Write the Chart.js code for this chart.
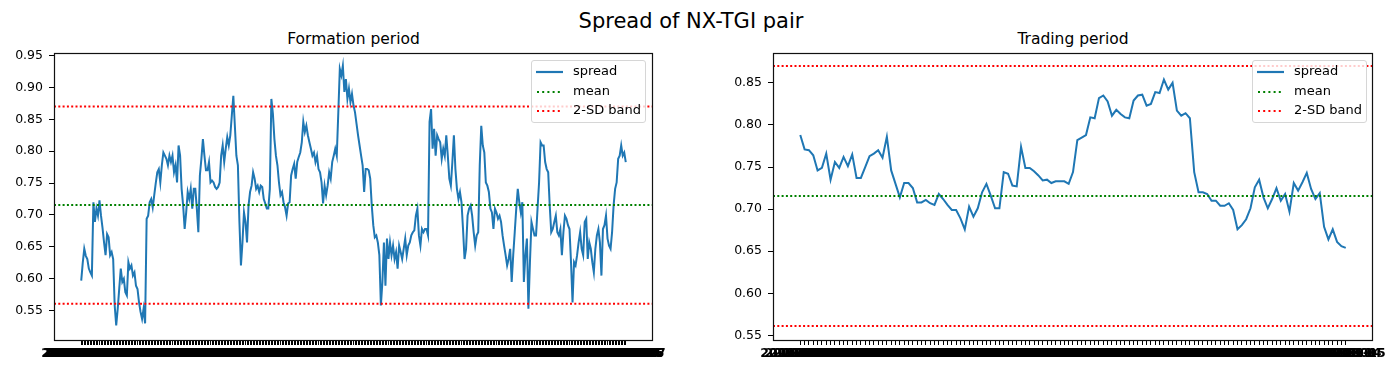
<!DOCTYPE html>
<html>
<head>
<meta charset="utf-8">
<title>Spread of NX-TGI pair</title>
<script src="https://cdn.jsdelivr.net/npm/chart.js@4.4.1/dist/chart.umd.min.js"></script>
<style>
  html, body { margin: 0; padding: 0; background: #fff; }
  body { width: 1400px; height: 377px; position: relative; overflow: hidden; font-family: "DejaVu Sans", sans-serif; color: #000; }
  .panel { position: absolute; top: 0; width: 700px; height: 377px; }
  .fig-title { position: absolute; left: 0; width: 1382px; top: 11px; text-align: center; font-size: 21px; line-height: 21px; }
  .ax-title { position: absolute; top: 32px; text-align: center; font-size: 15.5px; line-height: 15px; }
  .legend { position: absolute; top: 60px; width: 113px; height: 61px; background: rgba(255,255,255,0.8); border: 1px solid #d6d6d6; border-radius: 3px; }
  .legend .row { position: absolute; left: 0; height: 14px; font-size: 13px; line-height: 14px; }
  .legend svg { position: absolute; left: 3px; top: 2px; }
  .legend span { position: absolute; left: 41px; top: -1px; white-space: nowrap; }
</style>
</head>
<body>
<div class="fig-title">Spread of NX-TGI pair</div>
<div class="ax-title" style="left:54px;width:599px;">Formation period</div>
<div class="ax-title" style="left:773px;width:600px;">Trading period</div>
<div class="panel" style="left:0"><canvas id="formation" width="700" height="377"></canvas></div>
<div class="panel" style="left:700px"><canvas id="trading" width="700" height="377"></canvas></div>
<div class="legend" style="left:531px" id="legend-formation"></div>
<div class="legend" style="left:1252px" id="legend-trading"></div>
<script>
// ─── Data ────────────────────────────────────────────────────────────────────

const formationSpread = [
  0.597, 0.625, 0.647, 0.636, 0.631, 0.616, 0.610, 0.605, 0.720, 0.689,
  0.710, 0.699, 0.723, 0.699, 0.680, 0.657, 0.637, 0.670, 0.665, 0.637,
  0.642, 0.631, 0.558, 0.527, 0.553, 0.585, 0.616, 0.595, 0.600, 0.579,
  0.574, 0.626, 0.616, 0.621, 0.605, 0.610, 0.589, 0.584, 0.563, 0.548,
  0.537, 0.553, 0.530, 0.694, 0.699, 0.720, 0.725, 0.712, 0.731, 0.750,
  0.767, 0.772, 0.751, 0.778, 0.798, 0.793, 0.788, 0.778, 0.793, 0.783,
  0.793, 0.767, 0.778, 0.751, 0.809, 0.793, 0.741, 0.715, 0.678, 0.704,
  0.736, 0.725, 0.741, 0.710, 0.741, 0.741, 0.710, 0.673, 0.762, 0.788,
  0.819, 0.793, 0.770, 0.770, 0.783, 0.751,
  0.754, 0.751, 0.744, 0.741, 0.744, 0.751, 0.793, 0.809, 0.783, 0.804,
  0.822, 0.809, 0.825, 0.856, 0.887, 0.840, 0.793, 0.778, 0.689, 0.621,
  0.657, 0.704, 0.689, 0.657, 0.715, 0.736, 0.746, 0.767, 0.757, 0.741,
  0.746, 0.736, 0.746, 0.744, 0.725, 0.718, 0.710, 0.710, 0.741, 0.882,
  0.859, 0.819, 0.793, 0.778, 0.751, 0.731, 0.736, 0.720, 0.712, 0.699,
  0.718, 0.720, 0.762, 0.772, 0.780, 0.757, 0.783, 0.791, 0.798, 0.814,
  0.846, 0.830, 0.840, 0.825, 0.814, 0.804, 0.793, 0.798, 0.783, 0.793,
  0.772, 0.767, 0.751, 0.718, 0.746, 0.731, 0.746, 0.767, 0.757, 0.783,
  0.793, 0.804, 0.793, 0.860, 0.929, 0.919, 0.934, 0.893, 0.913, 0.882,
  0.898, 0.877,
  0.890, 0.872, 0.861, 0.843, 0.825, 0.809, 0.793, 0.778, 0.736, 0.772,
  0.772, 0.770, 0.757, 0.715, 0.684, 0.665, 0.668, 0.657, 0.637, 0.558,
  0.595, 0.657, 0.589, 0.663, 0.631, 0.657, 0.637, 0.652, 0.631, 0.642,
  0.616, 0.652, 0.642, 0.631, 0.647, 0.663, 0.637, 0.652, 0.657, 0.668,
  0.673, 0.676, 0.699, 0.710, 0.668, 0.652, 0.678, 0.673, 0.678, 0.678,
  0.668, 0.846, 0.866, 0.804, 0.835, 0.793, 0.825, 0.819, 0.814, 0.788,
  0.804, 0.793, 0.825, 0.793, 0.757, 0.746, 0.783, 0.825, 0.772, 0.741,
  0.725, 0.736, 0.720, 0.678, 0.631, 0.647, 0.699, 0.710, 0.715, 0.699,
  0.673, 0.652, 0.668, 0.673, 0.778, 0.840, 0.809, 0.798, 0.751, 0.746,
  0.736, 0.710, 0.704, 0.678,
  0.710, 0.704, 0.694, 0.699, 0.689, 0.668, 0.652, 0.637, 0.621, 0.631,
  0.647, 0.595, 0.637, 0.673, 0.710, 0.741, 0.720, 0.704, 0.720, 0.595,
  0.637, 0.663, 0.553, 0.626, 0.689, 0.678, 0.668, 0.668, 0.710, 0.751,
  0.814, 0.809, 0.809, 0.783, 0.772, 0.767, 0.715, 0.673, 0.678, 0.689,
  0.699, 0.673, 0.668, 0.678, 0.637, 0.673, 0.699, 0.694, 0.684, 0.678,
  0.626, 0.563, 0.626, 0.621, 0.637, 0.657, 0.673, 0.647, 0.637, 0.689,
  0.694, 0.631, 0.657, 0.647, 0.626, 0.610, 0.647, 0.668, 0.678, 0.657,
  0.605, 0.678, 0.684, 0.699, 0.663, 0.652, 0.647, 0.673, 0.715, 0.741,
  0.751, 0.788, 0.793, 0.809, 0.793, 0.798, 0.783
];

const tradingSpread = [
  0.788, 0.771, 0.770, 0.764, 0.746, 0.749, 0.766, 0.735, 0.756, 0.749,
  0.762, 0.751, 0.765, 0.737, 0.737, 0.750, 0.763, 0.766, 0.770, 0.761,
  0.786, 0.746, 0.730, 0.714, 0.731, 0.731, 0.725, 0.708, 0.708, 0.711,
  0.707, 0.705, 0.718, 0.712, 0.705, 0.699, 0.699, 0.689, 0.676, 0.703,
  0.691, 0.701, 0.720, 0.730, 0.716, 0.701, 0.701, 0.744, 0.742, 0.728,
  0.727, 0.774, 0.749, 0.749, 0.745, 0.740, 0.734, 0.735, 0.731, 0.733,
  0.733, 0.733, 0.730,
  0.744, 0.782, 0.785, 0.788, 0.809, 0.808, 0.832, 0.835, 0.828, 0.811,
  0.818, 0.813, 0.809, 0.808, 0.829, 0.835, 0.836, 0.823, 0.825, 0.839,
  0.838, 0.854, 0.842, 0.850, 0.817, 0.811, 0.814, 0.808, 0.744, 0.720,
  0.720, 0.718, 0.710, 0.710, 0.704, 0.704, 0.707, 0.699, 0.676, 0.681,
  0.688, 0.701, 0.726, 0.735, 0.714, 0.701, 0.712, 0.725, 0.710, 0.718,
  0.697, 0.731, 0.722, 0.732, 0.743, 0.724, 0.712, 0.719, 0.679, 0.664,
  0.676, 0.661, 0.656, 0.654
];

// mean and 2-SD band of the formation spread
const spreadMean = 0.7155;
const bandUpper = 0.870;
const bandLower = 0.561;

const formationYTicks = [0.55, 0.60, 0.65, 0.70, 0.75, 0.80, 0.85, 0.90, 0.95];
const tradingYTicks = [0.55, 0.60, 0.65, 0.70, 0.75, 0.80, 0.85];

const legendLabels = ["spread", "mean", "2-SD band"];

// trading-day labels (they pile up into an unreadable strip, as in the original)
function tradingDays(start, n) {
  const out = [];
  const d = new Date(start + "T00:00:00Z");
  while (out.length < n) {
    const wd = d.getUTCDay();
    if (wd !== 0 && wd !== 6) out.push(d.toISOString().slice(0, 10));
    d.setUTCDate(d.getUTCDate() + 1);
  }
  return out;
}
const formationDates = tradingDays("2018-01-02", formationSpread.length);
const tradingDates = tradingDays("2019-05-13", tradingSpread.length);

// ─── Styles ──────────────────────────────────────────────────────────────────

const BLUE = "#1f77b4";
const GREEN = "#008000";
const RED = "#ff0000";
const TICK_FONT = { family: "DejaVu Sans", size: 12.5 };
const DATE_FONT = { family: "DejaVu Sans", size: 12.5, weight: "bold" };

Chart.defaults.font.family = "DejaVu Sans";
Chart.defaults.color = "#000";

// dotted horizontal lines + the box round the axes
const axesPlugin = {
  id: "axesBox",
  afterDatasetsDraw(chart) {
    const { ctx, chartArea: a, scales } = chart;
    const y = scales.y;
    ctx.save();
    ctx.lineWidth = 2;
    ctx.setLineDash([2, 2.3]);
    [[spreadMean, GREEN], [bandUpper, RED], [bandLower, RED]].forEach(([v, c]) => {
      const py = y.getPixelForValue(v);
      ctx.strokeStyle = c;
      ctx.beginPath();
      ctx.moveTo(a.left, py);
      ctx.lineTo(a.right, py);
      ctx.stroke();
    });
    ctx.restore();
  },
  afterDraw(chart) {
    const { ctx, chartArea: a } = chart;
    ctx.save();
    ctx.strokeStyle = "#111";
    ctx.lineWidth = 1.2;
    ctx.strokeRect(Math.round(a.left) + 0.5, Math.round(a.top) + 0.5,
      Math.round(a.right - a.left) - 1, Math.round(a.bottom - a.top));
    ctx.restore();
  }
};

function makeChart(canvasId, values, dates, yMin, yMax, yTicks, yWidth, padRight) {
  const n = values.length;
  const margin = 0.05 * (n - 1);
  return new Chart(document.getElementById(canvasId), {
    type: "line",
    data: {
      datasets: [{
        label: "spread",
        data: values.map((v, i) => ({ x: i, y: v })),
        borderColor: BLUE,
        borderWidth: 2,
        pointRadius: 0,
        tension: 0,
        fill: false
      }]
    },
    options: {
      responsive: false,
      animation: false,
      devicePixelRatio: 1,
      layout: { padding: { left: 0, right: padRight, top: 53, bottom: 0 } },
      plugins: { legend: { display: false }, tooltip: { enabled: false }, title: { display: false } },
      scales: {
        x: {
          type: "linear",
          min: -margin,
          max: n - 1 + margin,
          afterBuildTicks: (s) => { s.ticks = dates.map((_, i) => ({ value: i })); },
          afterFit: (s) => { s.height = 37; },
          grid: { drawOnChartArea: false, drawTicks: true, tickLength: 5, color: "#000", lineWidth: 1 },
          border: { display: false },
          ticks: {
            autoSkip: false,
            maxRotation: 0,
            minRotation: 0,
            padding: 1,
            color: "#000",
            font: DATE_FONT,
            callback: (v) => dates[v]
          }
        },
        y: {
          min: yMin,
          max: yMax,
          afterBuildTicks: (s) => { s.ticks = yTicks.map((v) => ({ value: v })); },
          afterFit: (s) => { s.width = yWidth; },
          grid: { drawOnChartArea: false, drawTicks: true, tickLength: 5, color: "#000", lineWidth: 1 },
          border: { display: false },
          ticks: { padding: 6, color: "#000", font: TICK_FONT, callback: (v) => v.toFixed(2) }
        }
      }
    },
    plugins: [axesPlugin]
  });
}

// ─── Legend (inside the axes, upper right) ───────────────────────────────────

function buildLegend(elId) {
  const el = document.getElementById(elId);
  const samples = [
    '<line x1="1" y1="5" x2="28" y2="5" stroke="' + BLUE + '" stroke-width="2.2"/>',
    '<line x1="2" y1="5" x2="28" y2="5" stroke="' + GREEN + '" stroke-width="2.2" stroke-dasharray="2 3.2"/>',
    '<line x1="2" y1="5" x2="28" y2="5" stroke="' + RED + '" stroke-width="2.2" stroke-dasharray="2 3.2"/>'
  ];
  el.innerHTML = legendLabels.map((lab, i) =>
    '<div class="row" style="top:' + (4 + i * 19.5) + 'px">' +
    '<svg width="30" height="10">' + samples[i] + '</svg>' +
    '<span>' + lab + '</span></div>'
  ).join("");
}

// ─── Init ────────────────────────────────────────────────────────────────────

makeChart("formation", formationSpread, formationDates, 0.504, 0.954, formationYTicks, 54, 47);
makeChart("trading", tradingSpread, tradingDates, 0.5445, 0.8855, tradingYTicks, 73, 27);
buildLegend("legend-formation");
buildLegend("legend-trading");
</script>
</body>
</html>
